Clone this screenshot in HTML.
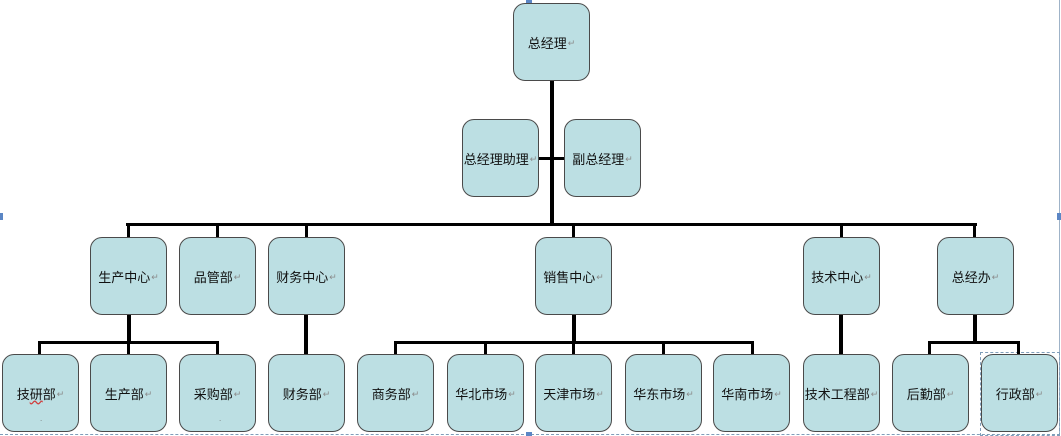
<!DOCTYPE html>
<html>
<head>
<meta charset="utf-8">
<style>
html,body{margin:0;padding:0;background:#fff;}
body{width:1061px;height:436px;position:relative;overflow:hidden;font-family:"Liberation Sans","Noto Sans CJK SC",sans-serif;}
.b{position:absolute;width:75px;height:76px;background:#bcdfe3;border:1.3px solid #4a4a4a;border-radius:12px;display:flex;align-items:center;justify-content:center;font-size:13px;color:#111;white-space:nowrap;}
.b .m{font-size:9px;color:#8a8a8a;margin-left:1px;position:relative;top:1px;}
.l{position:absolute;background:#000;}
.dot{position:absolute;font-size:8px;color:#777;}
</style>
</head>
<body>
<!-- decorations -->
<div style="position:absolute;left:1059px;top:0;width:1px;height:436px;background:#9fb3c8;"></div>
<div style="position:absolute;left:0;top:434px;width:1060px;height:0;border-top:1px dashed #7f9db9;"></div>
<div style="position:absolute;left:980px;top:352px;width:78px;height:82px;border:1px dashed #7f9db9;"></div>
<div style="position:absolute;left:0;top:213px;width:3px;height:7px;background:#5b86c5;"></div>
<div style="position:absolute;left:1057px;top:213px;width:4px;height:7px;background:#5b86c5;"></div>
<div style="position:absolute;left:526px;top:432px;width:6px;height:4px;background:#5b86c5;"></div>
<div style="position:absolute;left:526px;top:0;width:6px;height:3px;background:#5b86c5;"></div>

<!-- lines -->
<div class="l" style="left:550px;top:80px;width:4px;height:146px;"></div>
<div class="l" style="left:539px;top:157px;width:25px;height:3px;"></div>
<div class="l" style="left:126px;top:223px;width:851px;height:3px;"></div>
<!-- drops to middle -->
<div class="l" style="left:127px;top:223px;width:3px;height:14px;"></div>
<div class="l" style="left:216px;top:223px;width:3px;height:14px;"></div>
<div class="l" style="left:305px;top:223px;width:3px;height:14px;"></div>
<div class="l" style="left:572px;top:223px;width:3px;height:14px;"></div>
<div class="l" style="left:840px;top:223px;width:3px;height:14px;"></div>
<div class="l" style="left:973px;top:223px;width:3px;height:14px;"></div>
<!-- 生产中心 group -->
<div class="l" style="left:127px;top:315px;width:4px;height:29px;"></div>
<div class="l" style="left:38px;top:341px;width:181px;height:3px;"></div>
<div class="l" style="left:38px;top:341px;width:3px;height:13px;"></div>
<div class="l" style="left:127px;top:341px;width:3px;height:13px;"></div>
<div class="l" style="left:216px;top:341px;width:3px;height:13px;"></div>
<!-- 财务中心 -->
<div class="l" style="left:304px;top:315px;width:4px;height:39px;"></div>
<!-- 销售中心 group -->
<div class="l" style="left:572px;top:315px;width:4px;height:29px;"></div>
<div class="l" style="left:394px;top:341px;width:360px;height:3px;"></div>
<div class="l" style="left:394px;top:341px;width:3px;height:13px;"></div>
<div class="l" style="left:484px;top:341px;width:3px;height:13px;"></div>
<div class="l" style="left:572px;top:341px;width:3px;height:13px;"></div>
<div class="l" style="left:662px;top:341px;width:3px;height:13px;"></div>
<div class="l" style="left:751px;top:341px;width:3px;height:13px;"></div>
<!-- 技术中心 -->
<div class="l" style="left:839px;top:315px;width:4px;height:39px;"></div>
<!-- 总经办 group -->
<div class="l" style="left:973px;top:315px;width:4px;height:29px;"></div>
<div class="l" style="left:928px;top:341px;width:92px;height:3px;"></div>
<div class="l" style="left:928px;top:341px;width:3px;height:13px;"></div>
<div class="l" style="left:1017px;top:341px;width:3px;height:13px;"></div>

<!-- boxes -->
<div class="b" style="left:513px;top:3px;">总经理<span class="m">↵</span></div>
<div class="b" style="left:462px;top:119px;">总经理助理<span class="m">↵</span></div>
<div class="b" style="left:564px;top:119px;">副总经理<span class="m">↵</span></div>

<div class="b" style="left:90px;top:237px;">生产中心<span class="m">↵</span></div>
<div class="b" style="left:179px;top:237px;">品管部<span class="m">↵</span></div>
<div class="b" style="left:268px;top:237px;">财务中心<span class="m">↵</span></div>
<div class="b" style="left:535px;top:237px;">销售中心<span class="m">↵</span></div>
<div class="b" style="left:803px;top:237px;">技术中心<span class="m">↵</span></div>
<div class="b" style="left:937px;top:237px;">总经办<span class="m">↵</span></div>

<div class="b" style="left:2px;top:354px;">技<span style="text-decoration:underline wavy #d04040;text-decoration-skip-ink:none;">研</span>部<span class="m">↵</span></div>
<div class="b" style="left:90px;top:354px;">生产部<span class="m">↵</span></div>
<div class="b" style="left:179px;top:354px;">采购部<span class="m">↵</span></div>
<div class="b" style="left:268px;top:354px;">财务部<span class="m">↵</span></div>
<div class="b" style="left:357px;top:354px;">商务部<span class="m">↵</span></div>
<div class="b" style="left:447px;top:354px;">华北市场<span class="m">↵</span></div>
<div class="b" style="left:535px;top:354px;">天津市场<span class="m">↵</span></div>
<div class="b" style="left:625px;top:354px;">华东市场<span class="m">↵</span></div>
<div class="b" style="left:713px;top:354px;">华南市场<span class="m">↵</span></div>
<div class="b" style="left:803px;top:354px;">技术工程部<span class="m">↵</span></div>
<div class="b" style="left:892px;top:354px;">后勤部<span class="m">↵</span></div>
<div class="b" style="left:981px;top:354px;">行政部<span class="m">↵</span></div>

<div class="dot" style="left:40px;top:414px;">.</div>
<div class="dot" style="left:219px;top:414px;">.</div>
</body>
</html>
